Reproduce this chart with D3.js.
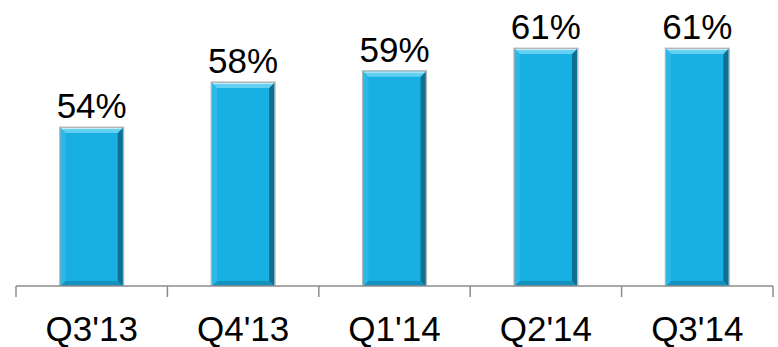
<!DOCTYPE html>
<html>
<head>
<meta charset="utf-8">
<script src="https://cdn.jsdelivr.net/npm/d3@7"></script>
<style>
  body { margin: 0; background: #fff; }
  svg { display: block; font-family: Arial, "Liberation Sans", sans-serif; }
</style>
</head>
<body>
<div id="chart"></div>
<script>
const quarters = ["Q3'13", "Q4'13", "Q1'14", "Q2'14", "Q3'14"];
const shares = [54, 58, 59, 61, 61];
const yDomain = [40, 65];

const width = 778;
const height = 347;
const axisY = 286;

const svg = d3.select('#chart').append('svg')
  .attr('width', width)
  .attr('height', height);

const x = d3.scaleBand()
  .domain(quarters)
  .range([16, 773])
  .paddingInner(0.59)
  .paddingOuter(0.295);

const y = d3.scaleLinear()
  .domain(yDomain)
  .range([axisY, 4]);

const bw = x.bandwidth();
const b = 5; // bevel size

const bars = svg.selectAll('g.bar')
  .data(quarters)
  .join('g')
  .attr('class', 'bar');

// grey outline / shadow
bars.append('rect')
  .attr('x', (d) => x(d) - 1.5)
  .attr('y', (d, i) => y(shares[i]) - 1.5)
  .attr('width', bw + 3)
  .attr('height', (d, i) => axisY - y(shares[i]) + 1.5)
  .attr('fill', '#b4b4b4');

bars.append('rect')
  .attr('x', (d) => x(d))
  .attr('y', (d, i) => y(shares[i]))
  .attr('width', bw)
  .attr('height', (d, i) => axisY - y(shares[i]))
  .attr('fill', '#18b0e2');

function bevel(d, i, side) {
  const x0 = x(d);
  const x1 = x0 + bw;
  const y0 = y(shares[i]);
  const y1 = axisY;
  const pts = {
    top: [[x0, y0], [x1, y0], [x1 - b, y0 + b], [x0 + b, y0 + b]],
    left: [[x0, y0], [x0 + b, y0 + b], [x0 + b, y1 - b], [x0, y1]],
    right: [[x1, y0], [x1, y1], [x1 - b, y1 - b], [x1 - b, y0 + b]],
    bottom: [[x0, y1], [x1, y1], [x1 - b, y1 - b], [x0 + b, y1 - b]],
  }[side];
  return pts.map((p) => p.join(',')).join(' ');
}

const bevelColors = { left: '#2bb8e6', bottom: '#1392bd', right: '#0f6f92', top: '#62d0f2' };
Object.entries(bevelColors).forEach(([side, color]) => {
  bars.append('polygon')
    .attr('points', (d, i) => bevel(d, i, side))
    .attr('fill', color);
});

// thin highlight line on top
bars.append('line')
  .attr('x1', (d) => x(d) + 1)
  .attr('x2', (d) => x(d) + bw - 1)
  .attr('y1', (d, i) => y(shares[i]) + 0.5)
  .attr('y2', (d, i) => y(shares[i]) + 0.5)
  .attr('stroke', '#c9eefa')
  .attr('stroke-width', 1);

// value labels
svg.selectAll('text.val')
  .data(quarters)
  .join('text')
  .attr('class', 'val')
  .attr('x', (d) => x(d) + bw / 2)
  .attr('y', (d, i) => y(shares[i]) - 10)
  .attr('text-anchor', 'middle')
  .attr('font-size', 35)
  .attr('fill', '#000')
  .text((d, i) => `${shares[i]}%`);

// x axis
const axis = svg.append('g')
  .attr('transform', `translate(0,${axisY})`)
  .call(d3.axisBottom(x).tickSize(0).tickPadding(30));
axis.select('.domain')
  .attr('stroke', '#8c8c8c')
  .attr('stroke-width', 1.5)
  .attr('d', `M${x.range()[0]},0H${x.range()[1]}`);
axis.selectAll('text')
  .attr('font-size', 35)
  .attr('font-family', 'Arial, "Liberation Sans", sans-serif')
  .attr('fill', '#000')
  .attr('dy', '0.71em');

const step = x.step();
const boundaries = quarters.map((d) => x(d) - (step - bw) / 2).concat([x.range()[1]]);
axis.selectAll('line.bound')
  .data(boundaries)
  .join('line')
  .attr('class', 'bound')
  .attr('x1', (d) => d)
  .attr('x2', (d) => d)
  .attr('y1', 0)
  .attr('y2', 11)
  .attr('stroke', '#8c8c8c')
  .attr('stroke-width', 1.5);
</script>
</body>
</html>
